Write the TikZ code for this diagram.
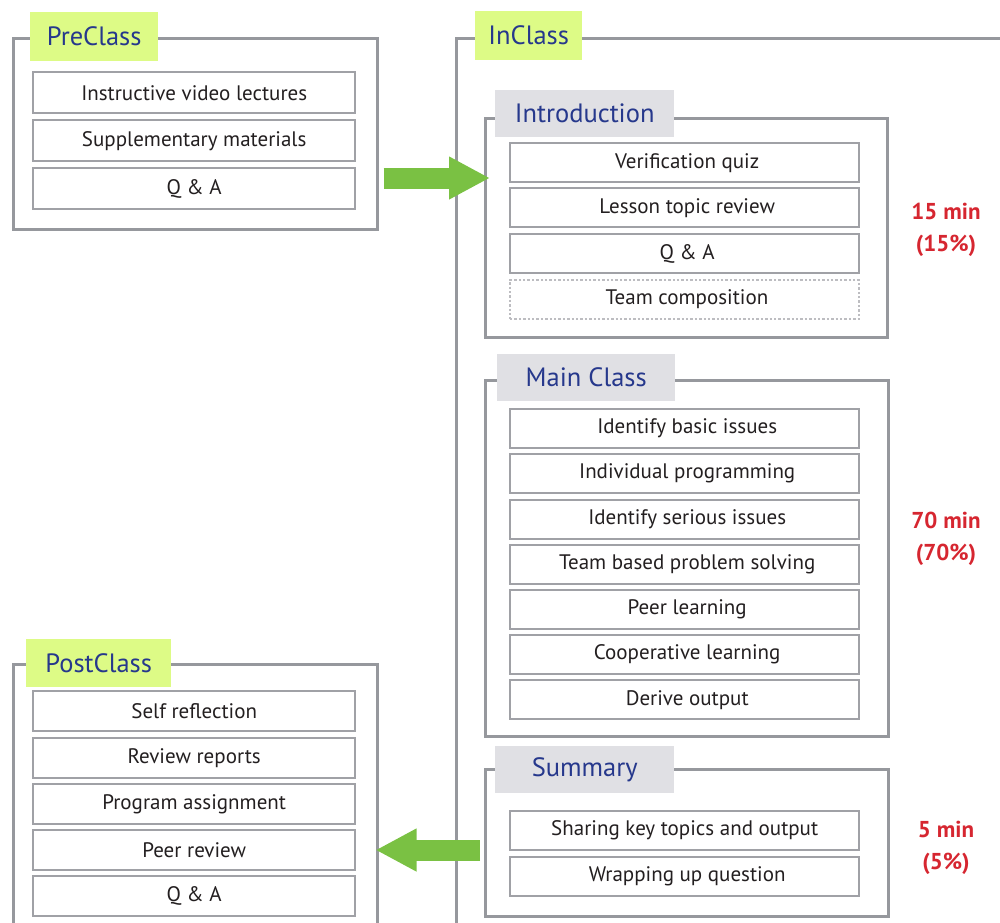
\documentclass[tikz,border=0pt]{standalone}
\usepackage{fontspec}
\setmainfont{PT Sans}
\usetikzlibrary{arrows.meta}
\definecolor{framegray}{RGB}{150,152,157}
\definecolor{itemgray}{RGB}{160,161,166}
\definecolor{labelgreen}{RGB}{221,251,134}
\definecolor{labelgray}{RGB}{224,224,228}
\definecolor{navy}{RGB}{38,56,140}
\definecolor{timered}{RGB}{214,38,48}
\definecolor{arrowgreen}{RGB}{122,193,67}
\definecolor{txt}{RGB}{35,31,32}
\tikzset{
  frame/.style={draw=framegray, line width=3pt, anchor=north west, inner sep=0pt},
  entry/.style={draw=itemgray, line width=2.4pt, fill=white, anchor=north west, inner sep=0pt,
    text=txt, font=\fontsize{21}{25}\selectfont},
  preentry/.style={entry, minimum width=322pt, minimum height=41pt},
  inentry/.style={entry, minimum width=349pt, minimum height=39pt},
  phase/.style={fill=labelgreen, anchor=north west, inner sep=0pt, text=navy,
    font=\fontsize{26.5}{30}\selectfont},
  stage/.style={fill=labelgray, anchor=north west, inner sep=0pt, text=navy,
    font=\fontsize{26.5}{30}\selectfont, minimum width=179pt, minimum height=47pt},
  timing/.style={text=timered, align=center, font=\bfseries\fontsize{23}{32}\selectfont},
  fatarrow/.style={draw=arrowgreen, line width=21pt,
    -{Triangle[length=41pt, width=40pt]}}
}
\begin{document}
\begin{tikzpicture}[x=1pt, y=-1pt]
\useasboundingbox (0,0) rectangle (1000,922);

% ---- PreClass ----
\node[frame, minimum width=364pt, minimum height=191pt] (pre) at (12,37) {};
\node[phase, minimum width=128pt, minimum height=49pt] (preL) at (30,12) {PreClass};
\node[preentry] (p1) at (32,71)  {Instructive video lectures};
\node[preentry] (p2) at (32,119) {Supplementary materials};
\node[preentry] (p3) at (32,167) {Q \& A};

% ---- InClass ----
\node[frame, minimum width=600pt, minimum height=950pt] (inc) at (455,37) {};
\node[phase, minimum width=107pt, minimum height=49pt] (incL) at (475,11) {InClass};

% Introduction
\node[frame, minimum width=402pt, minimum height=219pt] (intro) at (484,117) {};
\node[stage] (introL) at (495,90) {Introduction};
\node[inentry] (i1) at (509,142) {\hspace*{5pt}Verification quiz};
\node[inentry] (i2) at (509,187) {\hspace*{5pt}Lesson topic review};
\node[inentry] (i3) at (509,233) {\hspace*{5pt}Q \& A};
\node[inentry, draw=itemgray!70, dotted, line width=2pt] (i4) at (509,279) {\hspace*{5pt}Team composition};
\node[timing] (t1) at (946,230) {15 min\\(15\%)};

% Main Class
\node[frame, minimum width=403pt, minimum height=356pt] (main) at (484,379) {};
\node[stage, minimum width=178pt] (mainL) at (497,354) {Main Class};
\node[inentry] (m1) at (509,408) {\hspace*{5pt}Identify basic issues};
\node[inentry] (m2) at (509,453) {\hspace*{5pt}Individual programming};
\node[inentry] (m3) at (509,499) {\hspace*{5pt}Identify serious issues};
\node[inentry] (m4) at (509,544) {\hspace*{5pt}Team based problem solving};
\node[inentry] (m5) at (509,589) {\hspace*{5pt}Peer learning};
\node[inentry] (m6) at (509,634) {\hspace*{5pt}Cooperative learning};
\node[inentry] (m7) at (509,679) {\hspace*{5pt}Derive output};
\node[timing] (t2) at (946,539) {70 min\\(70\%)};

% Summary
\node[frame, minimum width=403pt, minimum height=147pt] (summ) at (484,768) {};
\node[stage] (summL) at (495,746) {Summary};
\node[inentry] (s1) at (509,810) {Sharing key topics and output};
\node[inentry] (s2) at (509,856) {\hspace*{5pt}Wrapping up question};
\node[timing] (t3) at (946,848) {5 min\\(5\%)};

% ---- PostClass ----
\node[frame, minimum width=364pt, minimum height=300pt] (post) at (12,663) {};
\node[phase, minimum width=145pt, minimum height=48pt] (postL) at (26,639) {PostClass};
\node[preentry, minimum height=40pt] (q1) at (32,690) {Self reflection};
\node[preentry, minimum height=40pt] (q2) at (32,737) {Review reports};
\node[preentry, minimum height=40pt] (q3) at (32,783) {Program assignment};
\node[preentry, minimum height=40pt] (q4) at (32,829) {Peer review};
\node[preentry, minimum height=40pt] (q5) at (32,875) {Q \& A};

% ---- flow arrows ----
\coordinate (a1) at (0,178);
\coordinate (a2) at (0,850);
\draw[fatarrow, shorten <=4.5pt, shorten >=-6pt] (pre.east |- a1) -- (intro.west |- a1);
\draw[fatarrow, shorten <=4pt, shorten >=-3.5pt] (summ.west |- a2) -- (post.east |- a2);
\end{tikzpicture}
\end{document}
